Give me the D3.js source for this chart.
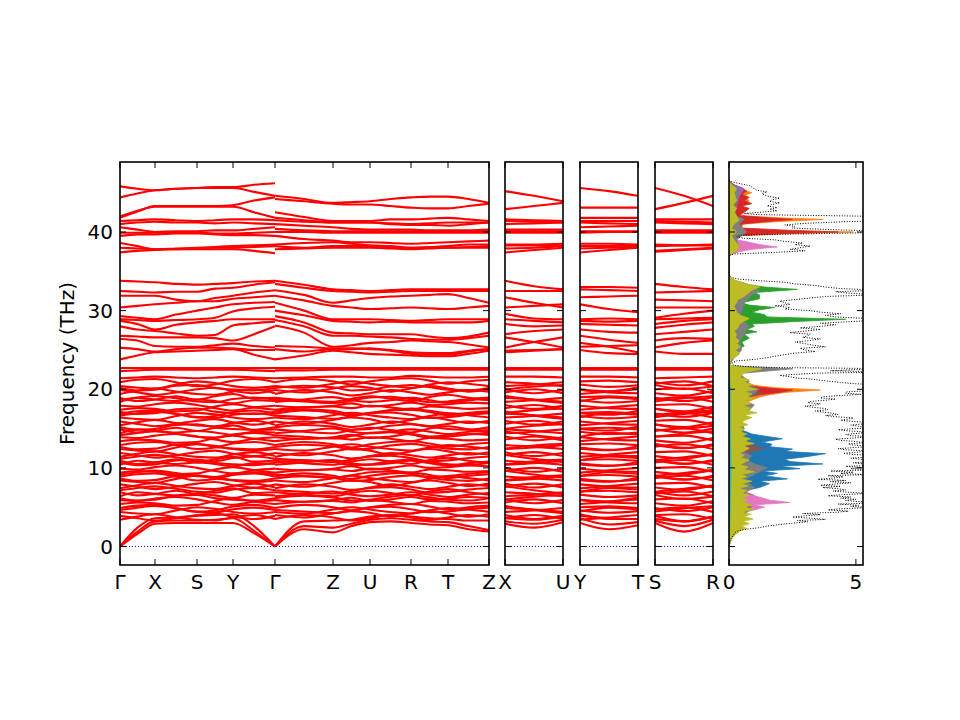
<!DOCTYPE html>
<html><head><meta charset="utf-8">
<script src="https://cdn.jsdelivr.net/npm/d3@7"></script>
<style>body{margin:0;background:#fff}svg{display:block}text{font-family:"DejaVu Sans",sans-serif;fill:#000}</style>
</head><body><svg width="960" height="720"></svg>
<script>
// ---------- DATA ----------
const segLen=[0.35,0.42,0.36,0.42,0.58,0.37,0.41,0.37,0.41];
const pathLabels=["Γ","X","S","Y","Γ","Z","U","R","T","Z"];
const subLabels=[["X","U"],["Y","T"],["S","R"]];
const subLen=0.58;
const freqTicks=[0,10,20,30,40];
const dosTicks=[0,5];

// band values at Γ, mid, X, mid, S, mid, Y, mid, Γ
const bandsGXSYG=[
[0,1.6,2.9,3.0,3.0,3.0,3.0,1.7,0],
[0,1.9,3.2,3.3,3.3,3.4,3.6,2.0,0],
[0,2.4,3.6,3.7,3.9,4.0,4.1,2.6,0],
[3.4,3.8,4.1,3.7,3.4,3.3,3.7,4.0,3.5],[3.9,3.6,3.3,3.6,4.0,4.2,3.8,3.5,3.9],
[4.4,4.2,4.1,4.6,5.0,4.8,4.4,4.2,4.4],[4.9,5.2,5.3,4.9,4.4,4.6,5.1,5.3,4.9],
[5.4,5.6,5.5,5.2,5.3,5.8,6.1,5.7,5.4],[5.9,5.8,6.1,6.3,6.0,5.6,5.3,5.7,5.9],
[6.4,6.9,6.7,6.5,6.7,6.5,6.2,6.6,6.5],[6.9,6.5,6.7,7.1,6.7,7.1,7.4,6.8,6.9],
[7.4,7.8,8.1,7.7,7.4,7.3,7.7,8.0,7.5],[7.9,7.6,7.3,7.6,8.0,8.2,7.8,7.5,7.9],
[8.4,8.2,8.1,8.6,9.0,8.8,8.4,8.2,8.4],[8.9,9.2,9.3,8.9,8.4,8.6,9.1,9.3,8.9],
[9.4,9.6,9.5,9.2,9.3,9.8,10.1,9.7,9.4],[9.9,9.8,10.1,10.3,10.0,9.6,9.3,9.7,9.9],
[10.4,10.9,10.7,10.5,10.7,10.5,10.2,10.6,10.5],[10.9,10.5,10.7,11.1,10.7,11.1,11.4,10.8,10.9],
[11.4,11.8,12.1,11.7,11.4,11.3,11.7,12.0,11.5],[11.9,11.6,11.3,11.6,12.0,12.2,11.8,11.5,11.9],
[12.4,12.2,12.1,12.6,13.0,12.8,12.4,12.2,12.4],[12.9,13.2,13.3,12.9,12.4,12.6,13.1,13.3,12.9],
[13.4,13.6,13.5,13.2,13.3,13.8,14.1,13.7,13.4],[13.9,13.8,14.1,14.3,14.0,13.6,13.3,13.7,13.9],
[14.4,14.9,14.7,14.5,14.7,14.5,14.2,14.6,14.5],[14.9,14.5,14.7,15.1,14.7,15.1,15.4,14.8,14.9],
[15.4,15.8,16.1,15.7,15.4,15.3,15.7,16.0,15.5],[15.9,15.6,15.3,15.6,16.0,16.2,15.8,15.5,15.9],
[16.4,16.2,16.1,16.6,17.0,16.8,16.4,16.2,16.4],[16.9,17.2,17.3,16.9,16.4,16.6,17.1,17.3,16.9],
[17.4,17.6,17.5,17.2,17.3,17.8,18.1,17.7,17.4],[17.9,17.8,18.1,18.3,18.0,17.6,17.3,17.7,17.9],
[18.4,18.9,18.7,18.5,18.7,18.5,18.2,18.6,18.5],[18.9,18.5,18.7,19.1,18.7,19.1,19.4,18.8,18.9],
[19.4,19.8,20.1,19.7,19.4,19.3,19.7,20.0,19.5],[19.9,19.6,19.3,19.6,20.0,20.2,19.8,19.5,19.9],
[20.4,20.2,20.1,20.6,21.0,20.8,20.4,20.2,20.4],[20.9,21.2,21.3,20.9,20.4,20.6,21.1,21.3,20.9],
[21.4,21.5,21.6,21.5,21.4,21.5,21.6,21.5,21.4],
[22.3,22.4,22.5,22.5,22.5,22.5,22.5,22.4,22.3],
[22.7,22.7,22.7,22.7,22.7,22.7,22.7,22.7,22.7],
[33.8,33.7,33.6,33.4,33.3,33.4,33.5,33.7,33.8],
[32.5,32.4,32.3,32.4,32.4,32.8,32.9,33.3,33.6],
[31.9,31.9,31.9,31.4,31.2,31.6,31.9,32.3,32.6],
[30.4,30.6,30.8,31.0,31.2,31.2,31.5,31.7,31.9],
[29.3,29.1,28.9,29.5,30.0,30.4,30.8,31.0,31.1],
[28.9,28.8,28.7,28.8,28.9,29.1,29.9,30.3,30.5],
[28.7,28.3,27.6,28.2,28.5,28.7,28.9,28.9,28.9],
[28.0,27.6,27.4,27.1,26.8,26.9,28.1,28.4,28.6],
[26.8,26.7,26.6,26.6,26.6,26.5,26.2,27.0,28.0],
[26.4,26.2,25.5,25.4,25.4,25.6,25.8,25.5,25.3],
[25.3,25.1,24.8,25.1,25.3,25.3,25.2,25.0,25.0],
[23.8,24.3,24.7,24.8,24.9,25.0,25.1,24.4,23.8],
[45.8,45.5,45.3,45.5,45.6,45.7,45.7,46.0,46.2],
[44.4,44.9,45.3,45.5,45.6,45.6,45.6,45.1,44.6],
[41.8,42.6,43.3,43.3,43.3,43.3,43.4,44.0,44.4],
[42.0,42.7,43.2,43.2,43.2,43.2,43.2,42.5,41.8],
[41.4,41.5,41.6,41.5,41.4,41.5,41.6,41.6,41.5],
[41.0,41.2,41.3,41.2,41.2,41.1,41.2,41.1,41.0],
[40.6,40.3,40.0,40.1,40.1,40.2,40.2,40.4,40.6],
[39.9,39.9,39.9,39.9,39.9,39.8,39.8,39.9,40.0],
[39.5,39.7,39.7,39.8,39.8,39.7,39.6,39.6,39.5],
[38.6,38.2,37.8,37.9,38.0,38.1,38.2,38.3,38.4],
[38.0,37.9,37.8,37.8,37.9,38.0,38.0,38.1,38.2],
[37.4,37.6,37.7,37.8,37.8,37.8,37.8,37.6,37.3],
[4.65,4.95,5.15,4.85,4.45,4.35,4.75,4.95,4.65],
[6.15,5.85,5.95,6.45,6.55,6.15,5.95,5.85,6.15],
[7.15,7.45,7.65,7.35,6.95,6.85,7.25,7.45,7.15],
[8.65,8.35,8.45,8.95,9.05,8.65,8.45,8.35,8.65],
[9.15,9.45,9.65,9.35,8.95,8.85,9.25,9.45,9.15],
[10.65,10.35,10.45,10.95,11.05,10.65,10.45,10.35,10.65],
[11.15,11.45,11.65,11.35,10.95,10.85,11.25,11.45,11.15],
[12.65,12.35,12.45,12.95,13.05,12.65,12.45,12.35,12.65],
[14.15,14.45,14.65,14.35,13.95,13.85,14.25,14.45,14.15],
[15.15,14.85,14.95,15.45,15.55,15.15,14.95,14.85,15.15],
[16.65,16.95,17.15,16.85,16.45,16.35,16.75,16.95,16.65],
[17.15,16.85,16.95,17.45,17.55,17.15,16.95,16.85,17.15],
[18.65,18.95,19.15,18.85,18.45,18.35,18.75,18.95,18.65],
[20.15,19.85,19.95,20.45,20.55,20.15,19.95,19.85,20.15]
];
// band values at Γ, mid, Z, mid, U, mid, R, mid, T, mid, Z
const bandsGZURTZ=[
[0,2.2,1.8,2.6,3.1,3.2,3.0,2.8,2.7,2.2,1.9],
[0,2.6,2.4,2.9,3.4,3.6,3.4,3.2,3.1,2.6,2.1],
[0,3.2,3.3,3.4,3.8,4.0,3.8,3.6,3.5,3.3,3.3],
[3.5,4.0,3.7,3.3,3.6,4.0,3.7,3.4,3.7,4.0,3.8],[4.0,3.7,4.2,4.5,4.3,3.8,4.2,4.5,4.2,3.8,4.1],
[4.4,4.2,4.7,5.0,4.7,4.4,4.2,4.6,4.9,4.7,4.4],[4.9,5.3,5.0,4.6,5.0,5.3,5.4,5.1,4.7,5.0,5.2],
[5.4,5.7,5.8,5.6,5.9,5.7,5.4,5.8,5.7,5.5,5.6],[5.9,5.7,5.9,6.2,5.8,6.0,6.3,6.0,6.1,6.3,6.2],
[6.4,6.7,7.0,6.6,6.4,6.6,6.9,6.6,6.3,6.6,6.8],[6.9,6.6,6.4,6.8,7.1,6.8,6.5,7.0,7.3,6.9,6.6],
[7.4,7.9,7.6,7.2,7.5,7.9,7.6,7.3,7.6,7.9,7.7],[7.9,7.6,8.1,8.4,8.2,7.7,8.1,8.4,8.1,7.7,8.0],
[8.4,8.2,8.7,9.0,8.7,8.4,8.2,8.6,8.9,8.7,8.4],[8.9,9.3,9.0,8.6,9.0,9.3,9.4,9.1,8.7,9.0,9.2],
[9.4,9.7,9.8,9.6,9.9,9.7,9.4,9.8,9.7,9.5,9.6],[9.9,9.7,9.9,10.2,9.8,10.0,10.3,10.0,10.1,10.3,10.2],
[10.4,10.7,11.0,10.6,10.4,10.6,10.9,10.6,10.3,10.6,10.8],[10.9,10.6,10.4,10.8,11.1,10.8,10.5,11.0,11.3,10.9,10.6],
[11.4,11.9,11.6,11.2,11.5,11.9,11.6,11.3,11.6,11.9,11.7],[11.9,11.6,12.1,12.4,12.2,11.7,12.1,12.4,12.1,11.7,12.0],
[12.4,12.2,12.7,13.0,12.7,12.4,12.2,12.6,12.9,12.7,12.4],[12.9,13.3,13.0,12.6,13.0,13.3,13.4,13.1,12.7,13.0,13.2],
[13.4,13.7,13.8,13.6,13.9,13.7,13.4,13.8,13.7,13.5,13.6],[13.9,13.7,13.9,14.2,13.8,14.0,14.3,14.0,14.1,14.3,14.2],
[14.4,14.7,15.0,14.6,14.4,14.6,14.9,14.6,14.3,14.6,14.8],[14.9,14.6,14.4,14.8,15.1,14.8,14.5,15.0,15.3,14.9,14.6],
[15.4,15.9,15.6,15.2,15.5,15.9,15.6,15.3,15.6,15.9,15.7],[15.9,15.6,16.1,16.4,16.2,15.7,16.1,16.4,16.1,15.7,16.0],
[16.4,16.2,16.7,17.0,16.7,16.4,16.2,16.6,16.9,16.7,16.4],[16.9,17.3,17.0,16.6,17.0,17.3,17.4,17.1,16.7,17.0,17.2],
[17.4,17.7,17.8,17.6,17.9,17.7,17.4,17.8,17.7,17.5,17.6],[17.9,17.7,17.9,18.2,17.8,18.0,18.3,18.0,18.1,18.3,18.2],
[18.4,18.7,19.0,18.6,18.4,18.6,18.9,18.6,18.3,18.6,18.8],[18.9,18.6,18.4,18.8,19.1,18.8,18.5,19.0,19.3,18.9,18.6],
[19.4,19.9,19.6,19.2,19.5,19.9,19.6,19.3,19.6,19.9,19.7],[19.9,19.6,20.1,20.4,20.2,19.7,20.1,20.4,20.1,19.7,20.0],
[20.4,20.2,20.7,21.0,20.7,20.4,20.2,20.6,20.9,20.7,20.4],[20.9,21.3,21.0,20.6,21.0,21.3,21.4,21.1,20.7,21.0,21.2],
[21.4,21.5,21.6,21.6,21.5,21.5,21.7,21.6,21.5,21.5,21.6],
[22.4,22.4,22.5,22.5,22.5,22.5,22.5,22.5,22.5,22.5,22.5],
[22.7,22.7,22.7,22.7,22.7,22.7,22.7,22.7,22.7,22.7,22.7],
[33.8,33.3,32.7,32.6,32.5,32.6,32.7,32.7,32.7,32.7,32.7],
[33.4,32.9,32.5,32.4,32.3,32.4,32.5,32.5,32.5,32.5,32.5],
[32.6,32.0,31.0,31.3,31.6,31.8,31.9,32.0,32.1,31.6,31.0],
[31.9,31.3,30.6,30.4,30.2,30.3,30.4,30.3,30.2,30.4,30.6],
[31.0,30.0,28.9,28.9,28.9,28.8,28.7,28.8,28.9,28.9,28.9],
[30.0,29.4,28.7,28.6,28.5,28.6,28.5,28.5,28.5,28.5,28.7],
[29.3,28.5,27.2,27.1,27.0,27.0,27.0,26.7,26.5,26.7,27.2],
[28.8,28.0,26.8,26.8,26.7,26.6,26.4,26.3,26.3,26.5,26.8],
[28.1,27.2,25.4,25.6,25.9,26.0,26.2,26.1,26.0,25.7,25.3],
[25.5,25.4,25.2,25.2,25.1,25.0,24.7,24.6,24.6,24.9,25.1],
[25.1,24.8,25.1,25.1,25.2,24.9,24.5,24.4,24.4,24.8,25.1],
[23.8,24.3,24.9,24.7,24.5,24.4,24.3,24.2,24.2,24.5,24.9],
[44.6,44.2,43.7,43.8,43.9,44.2,44.4,44.5,44.5,44.2,43.7],
[44.2,43.9,43.6,43.5,43.5,43.3,43.1,43.0,43.0,43.3,43.6],
[42.5,41.9,41.4,41.4,41.4,41.6,41.6,41.7,41.8,41.6,41.4],
[41.8,41.5,41.2,41.2,41.2,41.1,41.0,41.1,41.2,41.2,41.2],
[41.5,41.3,41.2,41.2,41.2,41.0,40.9,40.9,40.8,41.0,41.2],
[41.0,40.8,40.6,40.4,40.3,40.3,40.3,40.2,40.2,40.2,40.3],
[40.4,40.2,40.1,40.1,40.1,40.1,40.1,40.0,40.0,40.0,40.1],
[40.0,40.0,39.9,39.9,39.9,39.9,39.9,39.9,39.9,39.9,39.9],
[39.5,39.1,38.9,38.7,38.7,38.6,38.5,38.6,38.7,38.8,38.9],
[38.4,38.6,38.7,38.5,38.3,38.2,38.0,38.1,38.2,38.4,38.4],
[38.2,38.0,38.2,38.2,38.2,38.0,38.0,38.0,38.0,38.1,38.2],
[37.8,37.9,38.0,38.0,38.0,37.9,37.8,37.9,38.0,38.0,38.0],
[4.65,4.45,4.25,4.55,4.95,5.05,4.75,4.35,4.45,4.75,4.95],
[6.15,6.45,6.25,5.85,5.95,6.35,6.55,6.25,5.95,5.85,6.15],
[7.15,6.95,6.75,7.05,7.45,7.55,7.25,6.85,6.95,7.25,7.45],
[8.65,8.95,8.75,8.35,8.45,8.85,9.05,8.75,8.45,8.35,8.65],
[9.15,8.95,8.75,9.05,9.45,9.55,9.25,8.85,8.95,9.25,9.45],
[10.65,10.95,10.75,10.35,10.45,10.85,11.05,10.75,10.45,10.35,10.65],
[11.15,10.95,10.75,11.05,11.45,11.55,11.25,10.85,10.95,11.25,11.45],
[12.65,12.95,12.75,12.35,12.45,12.85,13.05,12.75,12.45,12.35,12.65],
[14.15,13.95,13.75,14.05,14.45,14.55,14.25,13.85,13.95,14.25,14.45],
[15.15,15.45,15.25,14.85,14.95,15.35,15.55,15.25,14.95,14.85,15.15],
[16.65,16.45,16.25,16.55,16.95,17.05,16.75,16.35,16.45,16.75,16.95],
[17.15,17.45,17.25,16.85,16.95,17.35,17.55,17.25,16.95,16.85,17.15],
[18.65,18.45,18.25,18.55,18.95,19.05,18.75,18.35,18.45,18.75,18.95],
[20.15,20.45,20.25,19.85,19.95,20.35,20.55,20.25,19.95,19.85,20.15]
];
// X-U, Y-T, S-R panels: start, mid, end
const bandsXU=[
[2.9,2.4,3.1],[3.2,2.9,3.4],[3.6,3.4,3.8],
[3.6,4.0,3.5],[4.0,3.5,3.9],[4.4,4.6,4.9],[4.9,4.7,4.4],
[5.6,6.0,5.5],[6.0,5.5,5.9],[6.4,6.6,6.9],[6.9,6.7,6.4],
[7.6,8.0,7.5],[8.0,7.5,7.9],[8.4,8.6,8.9],[8.9,8.7,8.4],
[9.6,10.0,9.5],[10.0,9.5,9.9],[10.4,10.6,10.9],[10.9,10.7,10.4],
[11.6,12.0,11.5],[12.0,11.5,11.9],[12.4,12.6,12.9],[12.9,12.7,12.4],
[13.6,14.0,13.5],[14.0,13.5,13.9],[14.4,14.6,14.9],[14.9,14.7,14.4],
[15.6,16.0,15.5],[16.0,15.5,15.9],[16.4,16.6,16.9],[16.9,16.7,16.4],
[17.6,18.0,17.5],[18.0,17.5,17.9],[18.4,18.6,18.9],[18.9,18.7,18.4],
[19.6,20.0,19.5],[20.0,19.5,19.9],[20.4,20.6,20.9],[20.9,20.7,20.4],
[21.6,21.6,21.5],[22.5,22.5,22.5],[22.7,22.7,22.7],
[33.8,33.1,32.7],[32.5,32.5,32.5],[31.7,31.0,30.4],[30.4,30.6,30.8],
[29.6,29.0,28.9],[28.9,28.7,28.5],[28.3,28.0,28.1],[27.0,27.4,27.6],
[26.6,26.0,25.3],[25.3,26.0,26.6],[24.9,25.0,25.1],[24.7,24.9,25.1],
[45.2,44.6,43.9],[42.9,43.3,43.7],[41.6,41.5,41.4],[41.4,41.3,41.2],
[41.0,41.1,41.2],[40.3,40.3,40.3],[40.1,40.1,40.1],[39.9,39.9,39.9],
[38.4,38.4,38.5],[38.3,38.3,38.3],[37.9,38.0,38.2],[37.4,37.7,38.0],
[5.15,4.65,4.25],[5.95,6.35,6.55],[7.65,7.15,6.75],[8.45,8.85,9.05],[9.65,9.15,8.75],
[10.45,10.85,11.05],[11.65,11.15,10.75],[12.45,12.85,13.05],[14.65,14.15,13.75],
[14.95,15.35,15.55],[17.15,16.65,16.25],[16.95,17.35,17.55],[19.15,18.65,18.25],[19.95,20.35,20.55]
];
const bandsYT=[
[3.0,2.2,2.7],[3.6,2.8,3.1],[4.1,3.5,3.5],
[3.4,3.7,4.0],[3.9,3.6,3.5],[4.6,4.3,4.5],[5.0,5.1,4.9],
[5.4,5.7,6.0],[5.9,5.6,5.5],[6.6,6.3,6.5],[7.0,7.1,6.9],
[7.4,7.7,8.0],[7.9,7.6,7.5],[8.6,8.3,8.5],[9.0,9.1,8.9],
[9.4,9.7,10.0],[9.9,9.6,9.5],[10.6,10.3,10.5],[11.0,11.1,10.9],
[11.4,11.7,12.0],[11.9,11.6,11.5],[12.6,12.3,12.5],[13.0,13.1,12.9],
[13.4,13.7,14.0],[13.9,13.6,13.5],[14.6,14.3,14.5],[15.0,15.1,14.9],
[15.4,15.7,16.0],[15.9,15.6,15.5],[16.6,16.3,16.5],[17.0,17.1,16.9],
[17.4,17.7,18.0],[17.9,17.6,17.5],[18.6,18.3,18.5],[19.0,19.1,18.9],
[19.4,19.7,20.0],[19.9,19.6,19.5],[20.6,20.3,20.5],[21.0,21.1,20.9],
[21.6,21.6,21.5],[22.5,22.5,22.5],[22.7,22.7,22.7],
[33.0,33.0,32.9],[32.7,32.6,32.5],[31.7,31.8,31.9],[30.8,30.2,29.8],
[28.9,29.0,28.9],[28.7,28.6,28.7],[28.3,28.2,28.1],[27.6,27.3,27.2],
[26.8,26.3,25.9],[25.9,25.4,24.7],[25.4,25.5,25.6],[25.0,24.6,24.5],
[45.6,45.2,44.6],[43.1,43.1,43.1],[41.8,41.8,41.8],[41.4,41.4,41.4],
[41.2,41.1,41.0],[40.6,40.7,40.8],[40.1,40.1,40.1],[39.9,40.0,40.0],
[38.5,38.5,38.4],[38.2,38.2,38.2],[37.9,38.0,38.0],[37.4,37.7,38.0],
[4.45,4.95,4.75],[5.95,5.75,6.25],[6.95,7.45,7.25],[8.45,8.25,8.75],[8.95,9.45,9.25],
[10.45,10.25,10.75],[10.95,11.45,11.25],[12.45,12.25,12.75],[13.95,14.45,14.25],
[14.95,14.75,15.25],[16.45,16.95,16.75],[16.95,16.75,17.25],[18.45,18.95,18.75],[19.95,19.75,20.25]
];
const bandsSR=[
[3.0,1.9,3.0],[3.3,2.6,3.4],[3.9,3.2,3.8],
[3.5,3.2,3.8],[4.0,4.1,3.5],[4.7,5.0,4.4],[4.9,4.5,5.0],
[5.5,5.2,5.8],[6.0,6.1,5.5],[6.7,7.0,6.4],[6.9,6.5,7.0],
[7.5,7.2,7.8],[8.0,8.1,7.5],[8.7,9.0,8.4],[8.9,8.5,9.0],
[9.5,9.2,9.8],[10.0,10.1,9.5],[10.7,11.0,10.4],[10.9,10.5,11.0],
[11.5,11.2,11.8],[12.0,12.1,11.5],[12.7,13.0,12.4],[12.9,12.5,13.0],
[13.5,13.2,13.8],[14.0,14.1,13.5],[14.7,15.0,14.4],[14.9,14.5,15.0],
[15.5,15.2,15.8],[16.0,16.1,15.5],[16.7,17.0,16.4],[16.9,16.5,17.0],
[17.5,17.2,17.8],[18.0,18.1,17.5],[18.7,19.0,18.4],[18.9,18.5,19.0],
[19.5,19.2,19.8],[20.0,20.1,19.5],[20.7,21.0,20.4],[20.9,20.5,21.0],
[21.4,21.5,21.6],[22.5,22.5,22.5],[22.7,22.7,22.7],
[33.4,33.0,32.7],[32.3,32.4,32.5],[31.4,31.3,31.2],[30.4,30.4,30.4],
[29.1,29.6,30.0],[28.9,29.0,29.1],[28.3,28.7,28.9],[27.8,28.2,28.5],
[27.0,27.3,27.6],[26.2,26.5,26.4],[25.3,25.9,26.2],[24.8,24.5,24.5],
[45.6,44.6,43.3],[42.9,43.7,44.6],[41.6,41.6,41.6],[41.4,41.3,41.2],
[41.2,41.1,41.0],[40.2,40.2,40.2],[40.1,40.0,40.0],[39.9,39.9,39.9],
[38.4,38.3,38.4],[38.2,38.3,38.3],[37.6,37.8,38.0],[37.5,37.7,37.9],
[4.45,4.85,5.15],[6.55,6.05,6.35],[6.95,7.35,7.65],[9.05,8.55,8.85],[8.95,9.35,9.65],
[11.05,10.55,10.85],[10.95,11.35,11.65],[13.05,12.55,12.85],[13.95,14.35,14.65],
[15.55,15.05,15.35],[16.45,16.85,17.15],[17.55,17.05,17.35],[18.45,18.85,19.15],[20.55,20.05,20.35]
];

// DOS: [frequency, states]
const dosTotal=[[0,0],[0.5,0.02],[1.0,0.08],[1.5,0.18],[1.8,0.25],[2.0,0.35],[2.2,0.7],[2.4,1.2],[2.6,1.5],[2.8,2.0],[3.0,2.6],[3.15,3.1],[3.3,2.7],[3.45,3.8],[3.6,3.2],[3.75,2.5],[3.9,3.0],[4.05,3.6],[4.2,2.9],[4.35,4.2],[4.5,4.7],[4.65,3.9],[4.8,4.4],[4.95,5.6],[5.1,4.8],[5.25,5.1],[5.4,4.3],[5.55,6.0],[5.7,5.2],[5.85,4.6],[6.0,5.0],[6.15,4.4],[6.3,4.8],[6.45,3.9],[6.6,4.5],[6.75,5.5],[6.9,4.7],[7.05,4.1],[7.2,4.6],[7.35,4.3],[7.5,3.7],[7.65,4.4],[7.8,3.6],[7.95,4.2],[8.1,4.8],[8.25,4.0],[8.4,4.6],[8.55,3.5],[8.7,4.1],[8.85,4.5],[9.0,3.9],[9.15,5.4],[9.3,4.4],[9.45,4.9],[9.6,4.0],[9.75,5.6],[9.9,4.8],[10.05,5.2],[10.2,4.6],[10.35,6.0],[10.5,5.3],[10.65,4.9],[10.8,5.6],[10.95,7.0],[11.1,5.2],[11.25,4.8],[11.4,5.6],[11.55,6.0],[11.7,4.9],[11.85,4.5],[12.0,5.1],[12.15,5.4],[12.3,4.6],[12.45,4.3],[12.6,5.0],[12.75,5.8],[12.9,4.9],[13.05,4.7],[13.2,5.3],[13.35,5.0],[13.5,4.4],[13.65,4.2],[13.8,4.9],[13.95,5.6],[14.1,4.8],[14.25,4.6],[14.4,5.1],[14.55,5.5],[14.7,4.7],[14.85,4.3],[15.0,5.0],[15.15,5.8],[15.3,5.1],[15.45,4.8],[15.6,5.3],[15.75,5.7],[15.9,4.9],[16.05,4.4],[16.2,4.7],[16.35,4.9],[16.5,4.2],[16.65,3.8],[16.8,4.3],[16.95,4.1],[17.1,3.7],[17.25,3.4],[17.4,3.9],[17.55,3.8],[17.7,3.3],[17.85,3.0],[18.0,3.4],[18.15,3.6],[18.3,3.1],[18.45,3.2],[18.6,3.8],[18.75,4.2],[18.9,3.6],[19.05,3.7],[19.2,4.4],[19.35,5.2],[19.5,4.6],[19.65,4.6],[19.8,5.4],[19.95,6.0],[20.1,5.5],[20.25,5.4],[20.4,5.9],[20.55,6.0],[20.7,5.0],[20.85,4.4],[21.0,4.0],[21.15,3.6],[21.3,3.2],[21.45,2.6],[21.6,2.4],[21.75,2.0],[21.9,2.6],[22.05,3.5],[22.2,6.5],[22.35,4.0],[22.5,5.0],[22.6,7.0],[22.75,2.0],[22.9,0.6],[23.05,0.2],[23.3,0.1],[23.6,0.3],[23.8,1.0],[24.0,1.5],[24.2,1.8],[24.4,2.2],[24.6,2.6],[24.8,3.4],[25.0,3.0],[25.2,2.8],[25.4,3.8],[25.6,3.3],[25.8,3.0],[26.0,2.6],[26.2,3.2],[26.4,3.6],[26.6,2.9],[26.8,3.1],[27.0,3.2],[27.2,2.4],[27.4,3.0],[27.6,3.6],[27.8,2.8],[28.0,3.6],[28.2,4.2],[28.4,3.6],[28.6,4.8],[28.8,6.0],[29.0,5.4],[29.2,4.2],[29.4,3.8],[29.6,4.4],[29.8,3.6],[30.0,3.2],[30.2,2.2],[30.4,2.4],[30.6,1.8],[30.8,2.4],[31.0,2.2],[31.2,2.0],[31.4,2.6],[31.6,3.2],[31.8,3.8],[32.0,5.8],[32.2,4.8],[32.4,4.2],[32.6,6.0],[32.8,4.4],[33.0,3.8],[33.2,3.4],[33.4,2.6],[33.6,2.2],[33.8,1.2],[34.0,0.4],[34.2,0.1],[34.5,0],[37.0,0],[37.2,0.2],[37.4,1.8],[37.6,3.0],[37.8,2.4],[38.0,2.8],[38.2,3.2],[38.4,2.6],[38.6,2.9],[38.8,2.2],[39.0,1.8],[39.2,0.6],[39.4,0.3],[39.6,0.5],[39.8,3.5],[39.95,6.5],[40.1,6.2],[40.3,4.0],[40.5,2.5],[40.7,2.6],[40.9,2.2],[41.1,3.0],[41.3,4.5],[41.45,6.2],[41.6,6.5],[41.8,5.8],[42.0,5.5],[42.2,1.2],[42.35,0.6],[42.5,1.2],[42.7,1.9],[42.9,1.6],[43.1,1.9],[43.3,1.5],[43.5,1.7],[43.7,2.0],[43.9,1.6],[44.1,1.7],[44.3,2.0],[44.5,1.6],[44.7,1.4],[44.9,1.3],[45.1,1.5],[45.3,1.1],[45.5,1.0],[45.7,0.9],[45.9,0.8],[46.1,0.5],[46.3,0.2],[46.5,0]];

const pdosBlue=[[6.5,0],[7,0.5],[7.5,1.2],[8,1.6],[8.3,1.2],[8.6,2.3],[9,1.4],[9.3,1.9],[9.6,1.3],[9.9,2.8],[10.2,2.0],[10.5,3.7],[10.8,2.4],[11.1,2.2],[11.4,3.0],[11.8,3.8],[12.1,2.2],[12.4,2.5],[12.7,1.6],[13.0,1.7],[13.3,1.3],[13.7,2.1],[14.0,1.5],[14.3,0.9],[14.7,0.6],[15,0.3],[15.5,0.2],[16,0]];
const pdosOrange=[[17.5,0],[18,0.3],[18.5,0.8],[19,1.2],[19.3,1.6],[19.6,2.2],[19.9,3.6],[20.2,1.8],[20.5,1.0],[21,0.6],[21.5,0.2],[22,0],[37.5,0],[39.5,0.2],[39.8,2.5],[40.0,4.9],[40.2,1.5],[40.5,0.3],[41.0,0.6],[41.3,1.8],[41.6,3.7],[41.8,2.0],[42.1,0.4],[42.5,0.3],[43,0.4],[43.5,0.6],[44,0.8],[44.5,0.5],[45,0.9],[45.5,0.4],[46,0.1],[46.5,0]];
const pdosGreen=[[23.5,0],[24,0.2],[24.5,0.4],[25,0.3],[25.5,0.6],[26,0.5],[26.5,0.8],[27,0.6],[27.3,1.1],[27.6,0.7],[28,1.0],[28.3,0.9],[28.6,2.5],[28.9,4.6],[29.2,1.5],[29.5,1.4],[29.8,0.9],[30.1,1.2],[30.4,1.8],[30.7,0.8],[31,0.5],[31.5,1.2],[32,1.2],[32.3,1.0],[32.7,2.7],[33.0,1.4],[33.3,0.8],[33.6,0.4],[34,0.1],[34.5,0],[37,0],[37.5,0.1],[38,0.3],[38.3,0.6],[38.6,0.3],[39,0.1],[39.5,0]];
const pdosRed=[[17.5,0],[18.5,0.4],[19,0.6],[19.3,1.2],[19.6,2.0],[19.9,2.5],[20.2,1.4],[20.5,0.5],[21,0.3],[22,0],[37,0],[37.5,0.2],[38,0.3],[38.5,0.2],[39.5,0.2],[39.8,2.0],[40.0,4.3],[40.2,2.5],[40.5,0.5],[41,0.5],[41.3,1.4],[41.6,2.5],[41.8,1.5],[42.1,0.4],[42.5,0.6],[43,0.8],[43.3,0.5],[43.6,0.9],[44,0.6],[44.4,0.8],[44.8,0.5],[45.2,0.7],[45.6,0.5],[46,0.2],[46.5,0]];
const pdosPurple=[[0,0],[3,0.1],[5,0.3],[6,0.5],[7,0.7],[7.5,0.4],[8,0.3],[10,0.4],[12,0.3],[14,0.4],[16,0.3],[18,0.5],[20,0.4],[22,0.2],[22.6,0.8],[23,0],[24,0.1],[28,0.3],[31,0.6],[32,0.3],[33.5,0.6],[34,0],[37,0],[38,0.3],[40,0.2],[42,0.2],[44.5,0.4],[45.5,0.6],[46,0.2],[46.5,0]];
const pdosBrown=[[0,0],[2,0.1],[4,0.3],[5,0.4],[6,0.8],[6.5,1.0],[7,0.6],[8,0.4],[9,0.5],[10,0.3],[11,0.4],[12,0.8],[12.5,1.4],[13,0.6],[14,0.3],[16,0.4],[18,0.6],[19,0.8],[19.5,1.3],[20,0.6],[21,0.3],[22,0.1],[23,0],[37,0],[38,0.2],[40,0.3],[42,0.2],[44,0.3],[46,0.1],[46.5,0]];
const pdosPink=[[0,0],[2,0.1],[3,0.2],[4,0.4],[4.5,0.8],[5,1.4],[5.3,1.0],[5.6,2.4],[5.9,1.6],[6.2,1.3],[6.6,0.8],[7,0.6],[7.5,0.3],[8,0.5],[9,0.3],[10,0.6],[10.5,0.3],[12,0.2],[14,0.4],[16,0.3],[18,0.5],[20,0.3],[22,0.2],[23,0],[24,0.1],[27.5,0.4],[28,0.6],[28.5,0.3],[30,0.2],[33,0.3],[34,0],[37,0],[37.5,0.4],[37.8,0.9],[38.1,1.9],[38.4,1.2],[38.7,0.8],[39,0.3],[39.5,0],[43,0],[44,0.1],[45,0.2],[46,0]];
const pdosGray=[[0,0],[2,0.2],[3,0.4],[4,0.6],[5,0.9],[5.5,0.6],[6,0.4],[7,0.7],[7.5,1.0],[8,0.8],[8.5,0.6],[9,0.9],[9.5,1.2],[10,1.5],[10.5,1.0],[11,0.7],[11.5,0.9],[12,0.6],[13,0.5],[14,0.4],[15,0.6],[16,0.5],[17,0.7],[18,1.0],[18.5,0.6],[19,0.8],[20,1.2],[20.5,0.7],[21,0.8],[22,0.4],[22.6,2.5],[23,0],[24,0.2],[25,0.5],[26,0.4],[27,0.6],[28,0.8],[29,0.5],[30,0.4],[31,0.6],[32,0.9],[32.5,1.2],[33,1.0],[33.5,0.4],[34,0],[37,0],[38,0.4],[39,0.3],[40,0.7],[41,0.4],[41.6,0.6],[42,0.3],[43,0.2],[44,0.3],[45,0.4],[46,0.2],[46.5,0]];
const pdosOlive=[[0,0],[1,0.1],[1.5,0.25],[2,0.45],[2.3,0.7],[2.6,0.5],[2.9,0.8],[3.2,0.55],[3.5,0.95],[3.8,0.6],[4.1,0.85],[4.4,0.5],[4.7,1.0],[5.0,0.6],[5.3,0.9],[5.6,0.55],[5.9,0.75],[6.2,0.45],[6.5,0.8],[6.8,0.5],[7.1,0.7],[7.4,0.4],[7.7,0.75],[8.0,0.5],[8.3,0.9],[8.6,0.45],[8.9,0.7],[9.2,0.5],[9.5,1.0],[9.8,0.6],[10.1,0.75],[10.4,0.45],[10.7,0.6],[11.0,0.8],[11.3,0.45],[11.6,0.6],[11.9,0.4],[12.2,0.65],[12.5,0.8],[12.8,0.55],[13.1,1.0],[13.4,0.6],[13.7,0.85],[14.0,0.5],[14.3,0.7],[14.6,0.45],[14.9,0.6],[15.2,0.4],[15.5,0.75],[15.8,0.5],[16.1,0.65],[16.4,0.9],[16.7,0.6],[17.0,1.1],[17.3,0.7],[17.6,0.85],[17.9,0.55],[18.2,0.9],[18.5,0.6],[18.8,1.0],[19.1,0.7],[19.4,0.9],[19.7,0.6],[20.0,1.1],[20.3,0.7],[20.6,0.9],[20.9,0.6],[21.2,0.8],[21.5,0.45],[21.8,0.5],[22.1,0.6],[22.6,1.3],[22.9,0.2],[23.2,0],[23.8,0.1],[24.2,0.3],[24.6,0.4],[25.0,0.25],[25.4,0.45],[25.8,0.3],[26.2,0.4],[26.6,0.25],[27.0,0.3],[27.4,0.2],[27.8,0.35],[28.2,0.4],[28.6,0.55],[29.0,0.8],[29.4,0.45],[29.8,0.3],[30.2,0.25],[30.6,0.2],[31.0,0.3],[31.4,0.35],[31.8,0.6],[32.2,0.75],[32.6,0.9],[33.0,1.2],[33.4,0.7],[33.8,0.3],[34.2,0.05],[34.5,0],[37,0],[37.4,0.2],[37.8,0.35],[38.2,0.4],[38.6,0.3],[39.0,0.2],[39.5,0.1],[40.0,0.3],[40.5,0.1],[41.0,0.2],[41.5,0.4],[42.0,0.3],[42.5,0.2],[43.0,0.3],[43.5,0.15],[44.0,0.3],[44.5,0.25],[45.0,0.2],[45.5,0.3],[46.0,0.1],[46.5,0]];
const pdosCyan=[[0,0],[5,0.05],[10,0.08],[15,0.05],[20,0.05],[23,0]];
const pdosList=[pdosBlue,pdosOrange,pdosGreen,pdosRed,pdosPurple,pdosBrown,pdosPink,pdosGray,pdosOlive,pdosCyan];

// ---------- STYLE / LAYOUT ----------
const pdosColors=["#1f77b4","#ff7f0e","#2ca02c","#d62728","#9467bd","#8c564b","#e377c2","#7f7f7f","#bcbd22","#17becf"];
const TOP=162,BOT=565;
const mainRange=[120,489];
const subRanges=[[505,563],[580,638],[655,713]];
const dosRange=[729,863];
const FS=20,TL=6;

const svg=d3.select("svg");
const defs=svg.append("defs");
const y=d3.scaleLinear().domain([-2.35,48.9]).range([BOT,TOP]);

function clipRect(id,r){defs.append("clipPath").attr("id",id).append("rect").attr("x",r[0]).attr("y",TOP).attr("width",r[1]-r[0]).attr("height",BOT-TOP);}

function frame(r,xTickPos,leftLabels){
  const g=svg.append("g");
  freqTicks.forEach(v=>{
    g.append("line").attr("x1",r[0]).attr("x2",r[0]+TL).attr("y1",y(v)).attr("y2",y(v)).attr("stroke","#000");
    g.append("line").attr("x1",r[1]).attr("x2",r[1]-TL).attr("y1",y(v)).attr("y2",y(v)).attr("stroke","#000");
    if(leftLabels) g.append("text").attr("x",r[0]-7).attr("y",y(v)).attr("dy","0.36em").attr("text-anchor","end").attr("font-size",FS).text(v);
  });
  xTickPos.forEach(p=>{
    g.append("line").attr("x1",p).attr("x2",p).attr("y1",TOP).attr("y2",TOP+TL).attr("stroke","#000");
    g.append("line").attr("x1",p).attr("x2",p).attr("y1",BOT).attr("y2",BOT-TL).attr("stroke","#000");
  });
  g.append("rect").attr("x",r[0]).attr("y",TOP).attr("width",r[1]-r[0]).attr("height",BOT-TOP).attr("fill","none").attr("stroke","#000").attr("stroke-width",1.6);
}
function xLabel(x,t){svg.append("text").attr("x",x).attr("y",589).attr("text-anchor","middle").attr("font-size",FS).text(t);}

function drawBands(g,bands,nodes,xs){
  const ln=d3.line().x((d,i)=>xs(nodes[i])).y(d=>y(d)).curve(d3.curveMonotoneX);
  g.append("g").selectAll("path").data(bands).join("path").attr("d",ln)
   .attr("fill","none").attr("stroke","#ff0000").attr("stroke-width",2.1);
}
function zeroLine(g,r){
  g.append("line").attr("x1",r[0]).attr("x2",r[1]).attr("y1",y(0)).attr("y2",y(0))
   .attr("stroke","#0000ff").attr("stroke-width",1).attr("stroke-dasharray","1,2");
}

// main panel
const cum=[0];segLen.forEach(l=>cum.push(cum[cum.length-1]+l));
const xMain=d3.scaleLinear().domain([0,cum[cum.length-1]]).range(mainRange);
const nodesL=[],nodesR=[];
for(let i=0;i<4;i++){nodesL.push(cum[i],(cum[i]+cum[i+1])/2);}nodesL.push(cum[4]);
for(let i=4;i<9;i++){nodesR.push(cum[i],(cum[i]+cum[i+1])/2);}nodesR.push(cum[9]);
clipRect("cMain",mainRange);
const gMain=svg.append("g").attr("clip-path","url(#cMain)");
drawBands(gMain,bandsGXSYG,nodesL,xMain);
drawBands(gMain,bandsGZURTZ,nodesR,xMain);
zeroLine(gMain,mainRange);
frame(mainRange,cum.map(c=>xMain(c)),true);
pathLabels.forEach((t,i)=>xLabel(xMain(cum[i]),t));

// sub panels
const subData=[bandsXU,bandsYT,bandsSR];
subRanges.forEach((r,k)=>{
  const xs=d3.scaleLinear().domain([0,subLen]).range(r);
  clipRect("cSub"+k,r);
  const g=svg.append("g").attr("clip-path","url(#cSub"+k+")");
  drawBands(g,subData[k],[0,subLen/2,subLen],xs);
  zeroLine(g,r);
  frame(r,[r[0],r[1]],false);
  xLabel(r[0],subLabels[k][0]);xLabel(r[1],subLabels[k][1]);
});

// DOS panel
const xDos=d3.scaleLinear().domain([0,5.28]).range(dosRange);
clipRect("cDos",dosRange);
const gD=svg.append("g").attr("clip-path","url(#cDos)");
pdosList.forEach((s,i)=>{
  gD.append("path").datum(s)
    .attr("d",d3.area().y(d=>y(d[0])).x0(xDos(0)).x1(d=>xDos(d[1])))
    .attr("fill",pdosColors[i]).attr("stroke",pdosColors[i]).attr("stroke-width",0.8);
});
gD.append("path").datum(dosTotal)
  .attr("d",d3.line().y(d=>y(d[0])).x(d=>xDos(d[1])))
  .attr("fill","none").attr("stroke","#000").attr("stroke-width",1).attr("stroke-dasharray","1,1.6");
frame(dosRange,dosTicks.map(v=>xDos(v)),false);
dosTicks.forEach(v=>xLabel(xDos(v),v));

// y label
svg.append("text").attr("transform","translate(67,363.5) rotate(-90)").attr("text-anchor","middle")
  .attr("dominant-baseline","central").attr("font-size",FS).text("Frequency (THz)");
</script></body></html>
